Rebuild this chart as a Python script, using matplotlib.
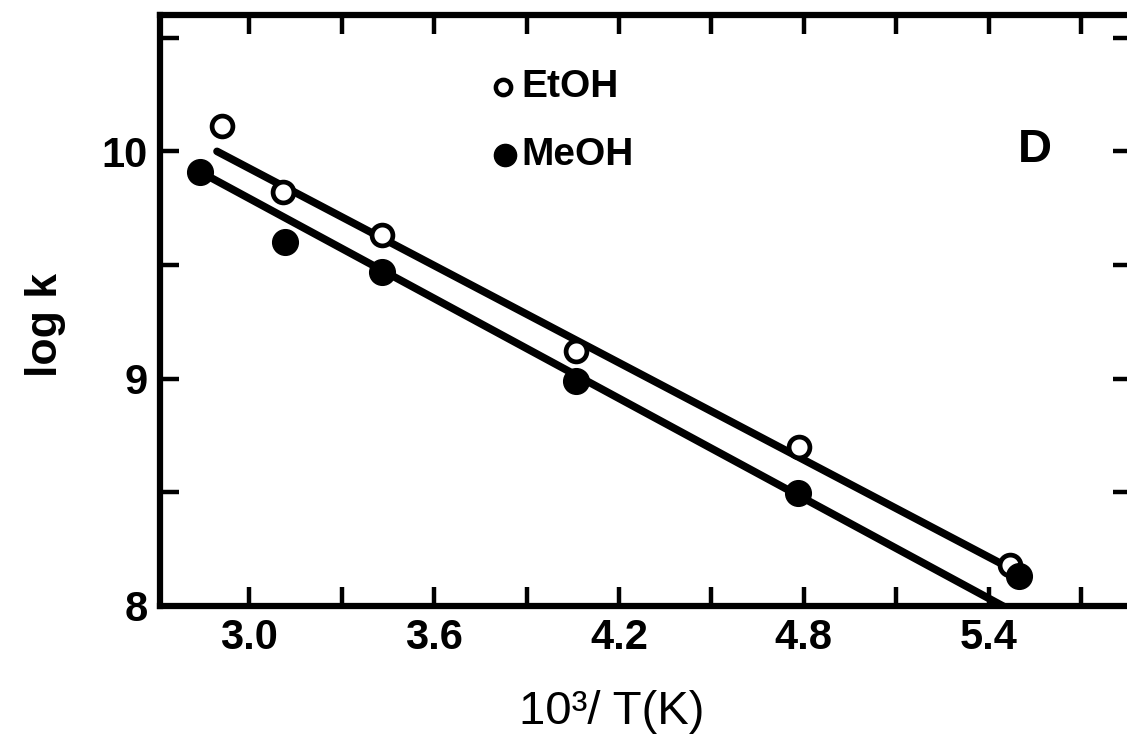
import matplotlib.pyplot as plt
from matplotlib.ticker import MultipleLocator, FormatStrFormatter

plt.rcParams['font.family'] = ['Liberation Sans', 'DejaVu Sans']

# data
etoh_x = [2.91, 3.11, 3.43, 4.06, 4.785, 5.47]
etoh_y = [10.11, 9.82, 9.63, 9.12, 8.70, 8.18]
meoh_x = [2.84, 3.115, 3.43, 4.06, 4.78, 5.50]
meoh_y = [9.91, 9.60, 9.47, 8.99, 8.495, 8.13]

# fitted lines (end points)
etoh_fit_x = [2.895, 5.45]
etoh_fit_y = [10.0, 8.18]
meoh_fit_x = [2.84, 5.46]
meoh_fit_y = [9.91, 7.99]

fig = plt.figure(figsize=(11.27, 7.42), dpi=100)
ax = fig.add_axes([0.142, 0.1833, 0.8625, 0.7965])

ax.plot(etoh_fit_x, etoh_fit_y, color='black', lw=5.5, solid_capstyle='round', zorder=2)
ax.plot(meoh_fit_x, meoh_fit_y, color='black', lw=5.5, solid_capstyle='round', zorder=2)
ax.plot(etoh_x, etoh_y, 'o', ms=15, mfc='white', mec='black', mew=3.4, zorder=3)
ax.plot(meoh_x, meoh_y, 'o', ms=18.5, mfc='black', mec='black', zorder=3)

ax.set_xlim(2.71, 5.866)
ax.set_ylim(8, 10.6)

ax.xaxis.set_major_locator(MultipleLocator(0.6))
ax.xaxis.set_minor_locator(MultipleLocator(0.3))
ax.xaxis.set_major_formatter(FormatStrFormatter('%.1f'))
ax.yaxis.set_major_locator(MultipleLocator(1))
ax.yaxis.set_minor_locator(MultipleLocator(0.5))
ax.yaxis.set_major_formatter(FormatStrFormatter('%d'))

ax.tick_params(which='both', direction='in', top=True, right=True,
               length=14, width=3.2, labelsize=30, pad=9)
for lab in ax.get_xticklabels() + ax.get_yticklabels():
    lab.set_fontweight('bold')
for sp in ax.spines.values():
    sp.set_linewidth(4.5)

# legend drawn by hand like the original
ax.plot([0.353], [0.878], 'o', ms=11, mfc='white', mec='black', mew=3.2,
        transform=ax.transAxes, clip_on=False)
ax.plot([0.355], [0.763], 'o', ms=16, mfc='black', mec='black',
        transform=ax.transAxes, clip_on=False)
ax.text(0.372, 0.878, 'EtOH', transform=ax.transAxes, fontsize=28,
        fontweight='bold', va='center', ha='left')
ax.text(0.372, 0.763, 'MeOH', transform=ax.transAxes, fontsize=28,
        fontweight='bold', va='center', ha='left')
ax.text(0.90, 0.772, 'D', transform=ax.transAxes, fontsize=34,
        fontweight='bold', va='center', ha='center')

fig.text(0.543, 0.040, '10³/ T(K)', fontsize=34, ha='center', va='center')
fig.text(0.040, 0.562, 'log k', fontsize=32, fontweight='bold',
         rotation=90, ha='center', va='center')

fig.savefig('out.png', dpi=100)
